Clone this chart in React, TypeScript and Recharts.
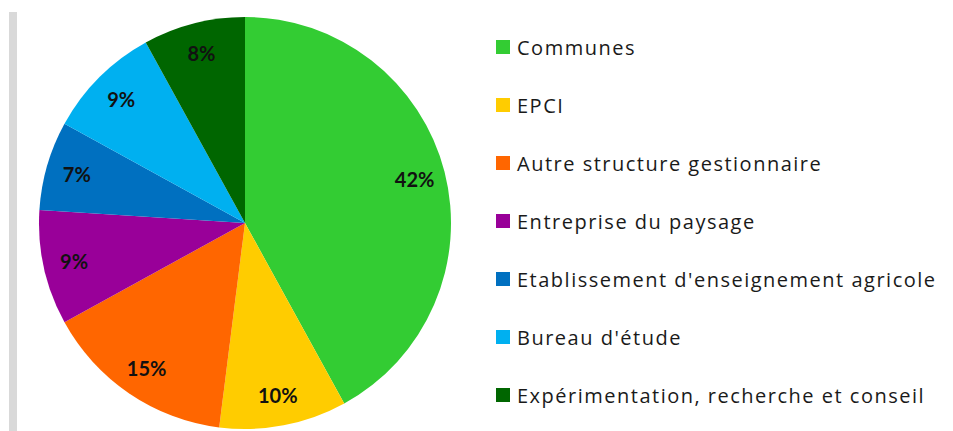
import React from "react";
import { PieChart, Pie, Cell, Legend } from "recharts";

const categories = [
  "Communes",
  "EPCI",
  "Autre structure gestionnaire",
  "Entreprise du paysage",
  "Etablissement d'enseignement agricole",
  "Bureau d'étude",
  "Expérimentation, recherche et conseil",
];
const shares = [42, 10, 15, 9, 7, 9, 8];
const colors = ["#33CC33", "#FFCC00", "#FF6600", "#990099", "#0070C0", "#00B0F0", "#006600"];

const data = categories.map((name, i) => ({ name, value: shares[i] }));

const RAD = Math.PI / 180;

const renderLabel = (props: any) => {
  const { cx, cy, midAngle, outerRadius, value } = props;
  const r = outerRadius * 0.85;
  const x = cx + r * Math.cos(-midAngle * RAD);
  const y = cy + r * Math.sin(-midAngle * RAD);
  return (
    <text
      x={x}
      y={y}
      fill="#111"
      textAnchor="middle"
      dominantBaseline="central"
      fontFamily="Lato, 'Open Sans', sans-serif"
      fontWeight={700}
      fontSize={20}
    >
      {`${value}%`}
    </text>
  );
};

const renderLegend = () => (
  <div>
    {categories.map((c, i) => (
      <div
        key={c}
        style={{ height: 58, display: "flex", alignItems: "center" }}
      >
        <div style={{ width: 14, height: 14, background: colors[i], marginRight: 7, flexShrink: 0 }} />
        <span
          style={{
            fontFamily: "'Open Sans', sans-serif",
            fontSize: 20,
            letterSpacing: 1.5,
            color: "#1a1a1a",
            whiteSpace: "nowrap",
          }}
        >
          {c}
        </span>
      </div>
    ))}
  </div>
);

export default function App() {
  return (
    <div style={{ position: "absolute", left: 0, top: 0, width: 953, height: 431, background: "#fff" }}>
      <div style={{ position: "absolute", left: 9, top: 12, width: 8, height: 419, background: "#d9d9d9" }} />
      <PieChart
        width={953}
        height={431}
        margin={{ top: 0, right: 0, bottom: 0, left: 0 }}
        style={{ position: "absolute", left: 0, top: 0 }}
      >
        <Pie
          data={data}
          dataKey="value"
          nameKey="name"
          cx={245}
          cy={223}
          outerRadius={206}
          startAngle={90}
          endAngle={-270}
          stroke="none"
          label={renderLabel}
          labelLine={false}
          isAnimationActive={false}
        >
          {data.map((d, i) => (
            <Cell key={d.name} fill={colors[i]} />
          ))}
        </Pie>
        <Legend
          content={renderLegend}
          wrapperStyle={{ position: "absolute", left: 496, top: 18, width: 455, height: 410 }}
        />
      </PieChart>
    </div>
  );
}
